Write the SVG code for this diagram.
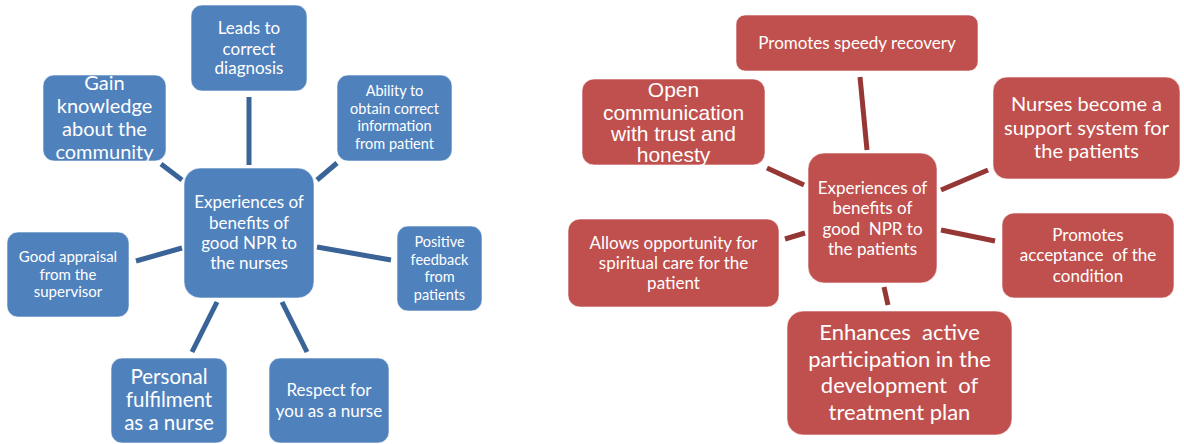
<svg xmlns="http://www.w3.org/2000/svg" width="1184" height="444" viewBox="0 0 1184 444">
<style>
.b{fill:#4F81BD;stroke:#FFFFFF;stroke-opacity:0.6;stroke-width:1}
.r{fill:#C0504D;stroke:#FFFFFF;stroke-opacity:0.6;stroke-width:1}
.t{font-family:Lato,"Liberation Sans",sans-serif;fill:#FFFFFF;text-anchor:middle;white-space:pre}
.a{font-family:"Liberation Sans",Arial,sans-serif;fill:#FFFFFF;text-anchor:middle;white-space:pre}
.cb line{stroke:#3A6497;stroke-width:5}
.cr line{stroke:#953735;stroke-width:5}
</style>
<rect width="1184" height="444" fill="#FFFFFF"/>
<g id="connectors-left" class="cb">
<line x1="249" y1="97" x2="249" y2="165"/>
<line x1="161" y1="164" x2="182" y2="180"/>
<line x1="337" y1="163" x2="317" y2="180"/>
<line x1="136" y1="261" x2="182" y2="248"/>
<line x1="317" y1="247" x2="391" y2="260"/>
<line x1="217" y1="302" x2="192" y2="352"/>
<line x1="282" y1="302" x2="307" y2="352"/>
</g>
<g id="connectors-right" class="cr">
<line x1="860" y1="77" x2="867" y2="150"/>
<line x1="767" y1="168" x2="804" y2="185"/>
<line x1="941" y1="190" x2="988" y2="170"/>
<line x1="785" y1="239" x2="805" y2="233"/>
<line x1="941" y1="230" x2="995" y2="241"/>
<line x1="884" y1="287" x2="888" y2="305"/>
</g>
<g id="leads">
<rect class="b" x="191" y="5" width="116" height="86" rx="11"/>
<text class="t" font-size="17"><tspan x="249" y="34">Leads to</tspan><tspan x="249" y="55">correct</tspan><tspan x="249" y="74">diagnosis</tspan></text>
</g>
<g id="gain">
<rect class="b" x="43" y="75" width="123" height="86" rx="11"/>
<text class="t" font-size="20"><tspan x="104.5" y="90">Gain</tspan><tspan x="104.5" y="113">knowledge</tspan><tspan x="104.5" y="136">about the</tspan><tspan x="104.5" y="159">community</tspan></text>
</g>
<g id="ability">
<rect class="b" x="337" y="75" width="115" height="86" rx="11"/>
<text class="t" font-size="14.5"><tspan x="394.5" y="96">Ability to</tspan><tspan x="394.5" y="113.5">obtain correct</tspan><tspan x="394.5" y="131">information</tspan><tspan x="394.5" y="148.5">from patient</tspan></text>
</g>
<g id="center-nurses">
<rect class="b" x="184" y="168" width="130" height="130" rx="16"/>
<text class="t" font-size="17"><tspan x="249" y="208">Experiences of</tspan><tspan x="249" y="229">benefits of</tspan><tspan x="249" y="249">good NPR to</tspan><tspan x="249" y="269">the nurses</tspan></text>
</g>
<g id="appraisal">
<rect class="b" x="7" y="232" width="122" height="85" rx="11"/>
<text class="t" font-size="15"><tspan x="68" y="262">Good appraisal</tspan><tspan x="68" y="279.5">from the</tspan><tspan x="68" y="297">supervisor</tspan></text>
</g>
<g id="positive">
<rect class="b" x="397" y="226" width="85" height="85" rx="11"/>
<text class="t" font-size="14.5"><tspan x="439.5" y="247">Positive</tspan><tspan x="439.5" y="264.5">feedback</tspan><tspan x="439.5" y="282">from</tspan><tspan x="439.5" y="299.5">patients</tspan></text>
</g>
<g id="personal">
<rect class="b" x="111" y="358" width="116" height="85" rx="11"/>
<text class="t" font-size="20.5"><tspan x="169" y="384">Personal</tspan><tspan x="169" y="407">fulfilment</tspan><tspan x="169" y="430">as a nurse</tspan></text>
</g>
<g id="respect">
<rect class="b" x="269" y="358" width="120" height="85" rx="11"/>
<text class="t" font-size="17"><tspan x="329" y="396">Respect for</tspan><tspan x="329" y="417">you as a nurse</tspan></text>
</g>
<g id="speedy">
<rect class="r" x="736" y="15" width="242" height="56" rx="9"/>
<text class="t" font-size="17"><tspan x="857" y="49">Promotes speedy recovery</tspan></text>
</g>
<g id="open">
<rect class="r" x="582" y="79" width="183" height="86" rx="12"/>
<text class="a" font-size="21"><tspan x="673.5" y="97">Open</tspan><tspan x="673.5" y="120">communication</tspan><tspan x="673.5" y="141">with trust and</tspan><tspan x="673.5" y="162">honesty</tspan></text>
</g>
<g id="support">
<rect class="r" x="993" y="77" width="187" height="102" rx="14"/>
<text class="t" font-size="20"><tspan x="1086.5" y="111">Nurses become a</tspan><tspan x="1086.5" y="135">support system for</tspan><tspan x="1086.5" y="158">the patients</tspan></text>
</g>
<g id="center-patients">
<rect class="r" x="808" y="153" width="129" height="130" rx="16"/>
<text class="t" font-size="17"><tspan x="872.5" y="194">Experiences of</tspan><tspan x="872.5" y="214">benefits of</tspan><tspan x="872.5" y="235">good  NPR to</tspan><tspan x="872.5" y="255">the patients</tspan></text>
</g>
<g id="spiritual">
<rect class="r" x="568" y="219" width="211" height="88" rx="12"/>
<text class="t" font-size="17"><tspan x="673.5" y="249">Allows opportunity for</tspan><tspan x="673.5" y="269">spiritual care for the</tspan><tspan x="673.5" y="289">patient</tspan></text>
</g>
<g id="acceptance">
<rect class="r" x="1002" y="213" width="172" height="85" rx="12"/>
<text class="t" font-size="17"><tspan x="1088" y="241">Promotes</tspan><tspan x="1088" y="261">acceptance  of the</tspan><tspan x="1088" y="282">condition</tspan></text>
</g>
<g id="enhances">
<rect class="r" x="787" y="311" width="225" height="124" rx="16"/>
<text class="t" font-size="22"><tspan x="899.5" y="340">Enhances  active</tspan><tspan x="899.5" y="366.5">participation in the</tspan><tspan x="899.5" y="393">development  of</tspan><tspan x="899.5" y="419.5">treatment plan</tspan></text>
</g>
</svg>
